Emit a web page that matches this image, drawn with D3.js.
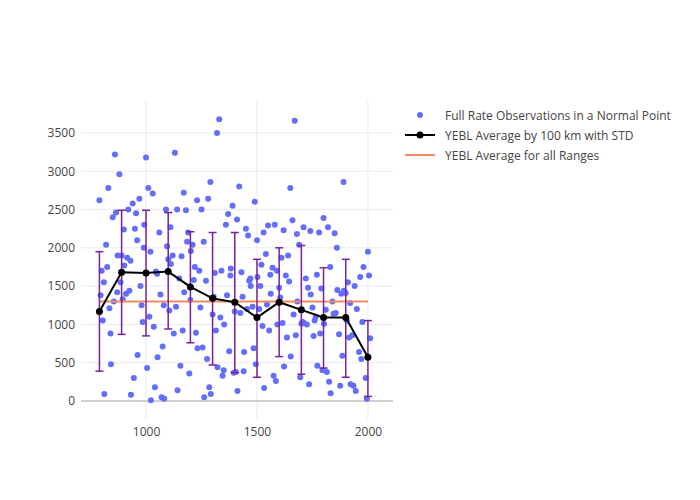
<!DOCTYPE html>
<html><head><meta charset="utf-8">
<script src="https://cdn.jsdelivr.net/npm/d3@7"></script>
<style>body{margin:0;background:#fff;font-family:"Open Sans",sans-serif}</style>
</head><body>
<script>
// scatter observations [range km, value]
const obsX = [790,800,810,820,830,840,850,860,870,880,890,900,910,920,930,940,950,960,970,980,990,1000,1010,1020,1030,1040,1050,1060,1070,1080,1090,1100,1110,1120,1130,1140,1150,1160,1170,1180,1190,1200,1210,1220,1230,1240,1250,1260,1270,1280,1290,1300,1310,1320,1330,1340,1350,1360,1370,1380,1390,1400,1410,1420,1430,1440,1450,1460,1470,1480,1490,1500,1510,1520,1530,1540,1550,1560,1570,1580,1590,1600,1610,1620,1630,1640,1650,1660,1670,1680,1690,1700,1710,1720,1730,1740,1750,1760,1770,1780,1790,1800,1810,1820,1830,1840,1850,1860,1870,1880,1890,1900,1910,1920,1930,1940,1950,1960,1970,1980,1990,2000,2010,
  795,825,855,885,915,945,975,1005,1035,1065,1095,1125,1155,1185,1215,1245,1275,1305,1335,1365,1395,1425,1455,1485,1515,1545,1575,1605,1635,1665,1695,1725,1755,1785,1815,1845,1875,1905,1935,1965,1995,
  805,835,865,895,925,955,985,1015,1045,1075,1105,1135,1165,1195,1225,1255,1285,1315,1345,1375,1405,1435,1465,1495,1525,1555,1585,1615,1645,1675,1705,1735,1765,1795,1825,1855,1885,1915,1945,1975,2005,
  812,842,872,902,932,962,992,1022,1052,1082,1112,1142,1172,1202,1232,1262,1292,1322,1352,1382,1412,1442,1472,1502,1532,1562,1592,1622,1652,1682,1712,1742,1772,1802,1832,1862,1892,1922,1952,1982];
const obsY = [2620,1700,1550,2040,2780,880,2400,3220,1420,2960,1900,2240,1400,2500,1830,2580,2250,2100,2640,1250,2000,3180,2780,1950,2710,180,1660,2200,50,1250,2500,1850,2270,1900,3240,2500,1600,1890,2720,2490,2200,1320,2040,1750,2620,1700,2500,2080,1570,2640,2860,1130,1670,3500,3680,1700,400,2300,2440,1640,2550,1170,2370,2800,1680,390,2250,2160,1600,1230,2600,2100,1200,1780,2200,1920,2290,1650,1740,2300,1700,1480,1870,2230,1640,1900,2780,2360,3660,2180,2040,1010,2270,1600,1480,2220,1220,1050,1650,2200,1470,2390,1190,2270,1750,1300,2190,2000,870,1400,2860,1410,1550,1280,860,1500,1200,640,550,1750,300,
  1950,820,1380,1750,1300,1550,1870,300,1500,430,970,1390,2020,880,460,2080,1580,1220,550,1360,1090,1380,370,1150,1200,690,1500,1260,330,1350,830,1130,310,1000,850,880,380,1140,200,1050,200,
  1620,30,1050,1210,2460,1330,1440,2450,1030,1100,1690,710,1180,1230,920,360,890,700,180,920,330,650,380,1360,1570,480,980,920,260,1020,1560,860,1030,220,1100,400,250,1150,590,830,130,
  1030,1640,90,480,1900,1770,80,600,2300,10,570,30,1790,140,1420,1960,690,50,90,440,1000,1730,130,640,1500,1620,170,1400,1000,450,580,1300,1020,1390,460,1010,100,1450,1440,220];
// YEBL average by 100 km
const avgX = [790,890,1000,1100,1200,1300,1400,1500,1600,1700,1800,1900,2000];
const avgY = [1170,1680,1670,1690,1490,1340,1290,1090,1290,1190,1090,1090,570];
const stdLo = [390,870,850,940,760,470,370,310,580,350,430,310,60];
const stdHi = [1950,2490,2490,2460,2210,2200,2200,1850,2000,2030,1740,1850,1050];
const allAvg = 1300;
const legendLabels = ["Full Rate Observations in a Normal Point","YEBL Average by 100 km with STD","YEBL Average for all Ranges"];

const W=700,H=500,m={l:81,r:307,t:100,b:81};
const svg=d3.select("body").append("svg").attr("width",W).attr("height",H);
const x=d3.scaleLinear().domain([707,2113]).range([m.l,W-m.r]);
const y=d3.scaleLinear().domain([-235,3930]).range([H-m.b,m.t]);
svg.append("g").selectAll("line").data([1000,1500,2000]).join("line")
  .attr("x1",d=>x(d)).attr("x2",d=>x(d)).attr("y1",m.t).attr("y2",H-m.b).attr("stroke","#ebebeb");
svg.append("g").selectAll("line").data(d3.range(0,3501,500)).join("line")
  .attr("y1",d=>y(d)).attr("y2",d=>y(d)).attr("x1",m.l).attr("x2",W-m.r)
  .attr("stroke",d=>d===0?"#d0d0d0":"#ebebeb").attr("stroke-width",d=>d===0?2:1);
const ax=svg.append("g").attr("transform",`translate(0,${H-m.b})`).call(d3.axisBottom(x).tickValues([1000,1500,2000]).tickFormat(d3.format("d")).tickSize(0).tickPadding(8));
const ay=svg.append("g").attr("transform",`translate(${m.l},0)`).call(d3.axisLeft(y).tickValues(d3.range(0,3501,500)).tickFormat(d3.format("d")).tickSize(0).tickPadding(6));
[ax,ay].forEach(a=>{a.select(".domain").remove();a.selectAll("text").attr("fill","#444").attr("font-size",12).attr("font-family","Open Sans")});
const n=Math.min(obsX.length,obsY.length);
svg.append("g").selectAll("circle").data(d3.range(n).map(i=>[obsX[i],obsY[i]])).join("circle")
  .attr("cx",d=>x(d[0])).attr("cy",d=>y(d[1])).attr("r",3).attr("fill","#636efa");
svg.append("line").attr("x1",x(790)).attr("x2",x(2000)).attr("y1",y(allAvg)).attr("y2",y(allAvg))
  .attr("stroke","#ef8a62").attr("stroke-width",2);
const eb=svg.append("g").attr("stroke","#7b1fa2").attr("stroke-width",1.5);
avgX.forEach((v,i)=>{
  eb.append("line").attr("x1",x(v)).attr("x2",x(v)).attr("y1",y(stdLo[i])).attr("y2",y(stdHi[i]));
  [stdLo[i],stdHi[i]].forEach(s=>eb.append("line").attr("x1",x(v)-4).attr("x2",x(v)+4).attr("y1",y(s)).attr("y2",y(s)));
});
svg.append("path").datum(avgX.map((v,i)=>[v,avgY[i]]))
  .attr("d",d3.line().x(d=>x(d[0])).y(d=>y(d[1]))).attr("fill","none").attr("stroke","#000").attr("stroke-width",2);
svg.append("g").selectAll("circle").data(avgX.map((v,i)=>[v,avgY[i]])).join("circle")
  .attr("cx",d=>x(d[0])).attr("cy",d=>y(d[1])).attr("r",3.5).attr("fill","#000");
const lg=svg.append("g").attr("transform","translate(405,115)");
legendLabels.forEach((t,i)=>{
  const g=lg.append("g").attr("transform",`translate(0,${i*20})`);
  if(i===0) g.append("circle").attr("cx",15).attr("r",3).attr("fill","#636efa");
  else g.append("line").attr("x1",0).attr("x2",30).attr("stroke",i===1?"#000":"#ef8a62").attr("stroke-width",2);
  if(i===1) g.append("circle").attr("cx",15).attr("r",3.5).attr("fill","#000");
  g.append("text").attr("x",40).attr("y",4.5).attr("font-size",12).attr("fill","#444").text(t);
});
</script>
</body></html>
